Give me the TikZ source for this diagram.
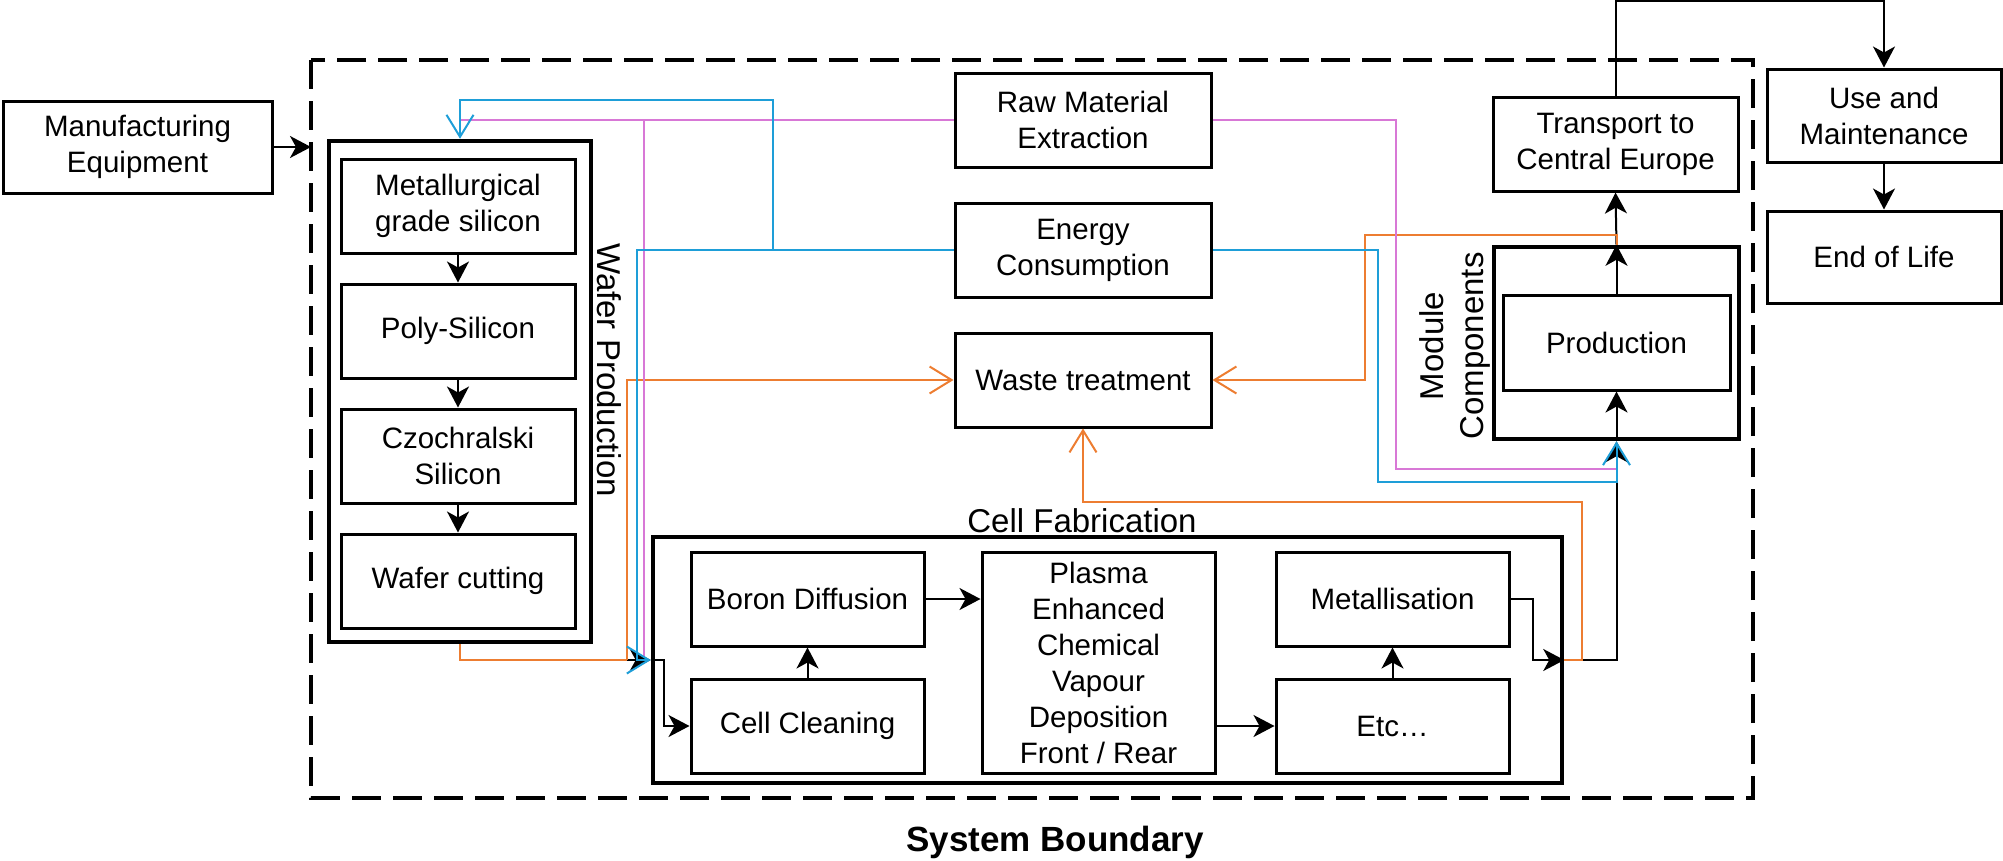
\documentclass[tikz,border=0pt]{standalone}
\usepackage{fontspec}
\setmainfont{Liberation Sans}
\usetikzlibrary{arrows.meta}
\definecolor{cblue}{HTML}{1E9ED8}
\definecolor{cpink}{HTML}{D878D6}
\definecolor{corange}{HTML}{ED7D31}
\tikzset{
  box/.style={draw, line width=3pt, align=center, inner sep=0pt, minimum width=234pt, minimum height=94pt, font=\fontsize{29.5}{36}\selectfont},
  group/.style={draw, line width=4.5pt, inner sep=0pt},
  lbl/.style={inner sep=0pt, align=center, font=\fontsize{33}{40}\selectfont},
  conn/.style={line width=2pt, black},
  bc/.style={line width=2pt, cblue},
  pc/.style={line width=2pt, cpink},
  oc/.style={line width=2pt, corange},
  sarr/.style={-{Stealth[length=21pt, width=22pt, inset=6pt]}},
  barr/.style={-{Straight Barb[length=22pt, width=27pt]}},
}
\begin{document}
\begin{tikzpicture}[x=1pt, y=-1pt]
\useasboundingbox (0,0) rectangle (2003,860);
% system boundary
\draw[line width=4pt, dash pattern=on 29pt off 12pt] (311,60) rectangle (1753,798);
\node[font=\bfseries\fontsize{35}{40}\selectfont, anchor=base] (sb) at (1055,851) {System Boundary};
\coordinate (bin) at (311,147);
% group boxes
\node[group, minimum width=262pt, minimum height=501pt] (wafer) at (460,391.5) {};
\node[group, minimum width=909pt, minimum height=246pt] (cellfab) at (1107.5,660) {};
\node[group, minimum width=245pt, minimum height=192pt] (module) at (1616.5,343) {};
\node[lbl, rotate=-90] (waferlbl) at (609,370) {Wafer Production};
\node[lbl, rotate=90] (modlbl) at (1455,346) {Module\\Components};
\node[lbl, anchor=base] (cflbl) at (1082,532) {Cell Fabrication};
% boxes
\node[box, minimum width=269pt, minimum height=92pt] (mfg) at (137.5,147) {Manufacturing\\Equipment};
\node[box] (metal) at (458,206) {Metallurgical\\grade silicon};
\node[box] (poly) at (458,331) {Poly-Silicon};
\node[box] (czo) at (458,456) {Czochralski\\Silicon};
\node[box] (wcut) at (458,581) {Wafer cutting};
\node[box, minimum width=256pt] (raw) at (1083,120) {Raw Material\\Extraction};
\node[box, minimum width=256pt] (energy) at (1083,250) {Energy\\Consumption};
\node[box, minimum width=256pt] (waste) at (1083,380) {Waste treatment};
\node[box, minimum width=233pt] (boron) at (807.5,599) {Boron Diffusion};
\node[box, minimum width=233pt] (clean) at (807.5,726) {Cell Cleaning};
\node[box, minimum width=233pt, minimum height=221pt] (pecvd) at (1098.5,662.5) {Plasma\\Enhanced\\Chemical\\Vapour\\Deposition\\Front / Rear};
\node[box, minimum width=233pt] (metall) at (1392.5,599) {Metallisation};
\node[box, minimum width=233pt] (etc) at (1392.5,726) {Etc…};
\node[box, minimum width=245pt] (transport) at (1615.5,144) {Transport to\\Central Europe};
\node[box, minimum width=227pt, minimum height=95pt] (prod) at (1616.5,342.5) {Production};
\node[box, minimum height=93pt] (use) at (1884,115.5) {Use and\\Maintenance};
\node[box, minimum height=92pt] (eol) at (1884,257) {End of Life};
% coordinates
\coordinate (j1) at (627,660);
\coordinate (bsplit) at (773,250);
% black connectors
\draw[conn, sarr] (mfg.east) -- (bin);
\draw[conn, sarr] (metal.south) -- (poly.north);
\draw[conn, sarr] (poly.south) -- (czo.north);
\draw[conn, sarr] (czo.south) -- (wcut.north);
\draw[conn, sarr] (j1) -- (cellfab.west);
\draw[conn, sarr] (cellfab.west) -- ++(13,0) |- (clean.west);
\draw[conn, sarr] (clean.north) -- (boron.south);
\draw[conn, sarr] (boron.east) -- (pecvd.west |- boron.east);
\draw[conn, sarr] (pecvd.east |- etc.west) -- (etc.west);
\draw[conn, sarr] (etc.north) -- (metall.south);
\draw[conn, sarr] (metall.east) -- ++(22,0) |- (cellfab.east);
\draw[conn, sarr] (cellfab.east) -| (module.south);
\draw[conn, sarr] (module.south) -- (prod.south);
\draw[conn, sarr] (prod.north) -- (module.north);
\draw[conn, sarr] (module.north) -- (transport.south);
\draw[conn, sarr] (transport.north) -- (1615.5,1) -| (use.north);
\draw[conn, sarr] (use.south) -- (eol.north);
% orange
\draw[oc] (wafer.south) |- (j1);
\draw[oc, barr] (j1) |- (waste.west);
\draw[oc, barr] (cellfab.east) -- (1582,660) -- (1582,502) -| (waste.south);
\draw[oc, barr] (module.north) |- (1365,235) |- (waste.east);
% pink
\draw[pc] (raw.west) -- (460,120);
\draw[pc] (644,120) -- (644,658);
\draw[pc] (raw.east) -| (1396,469) -- (1616.5,469);
% blue
\draw[bc, barr] (energy.west) -| (637,660) -- (cellfab.west);
\draw[bc, barr] (bsplit) |- (460,100) -- (wafer.north);
\draw[bc, barr] (energy.east) -| (1378,482) -| (module.south);
\end{tikzpicture}
\end{document}
